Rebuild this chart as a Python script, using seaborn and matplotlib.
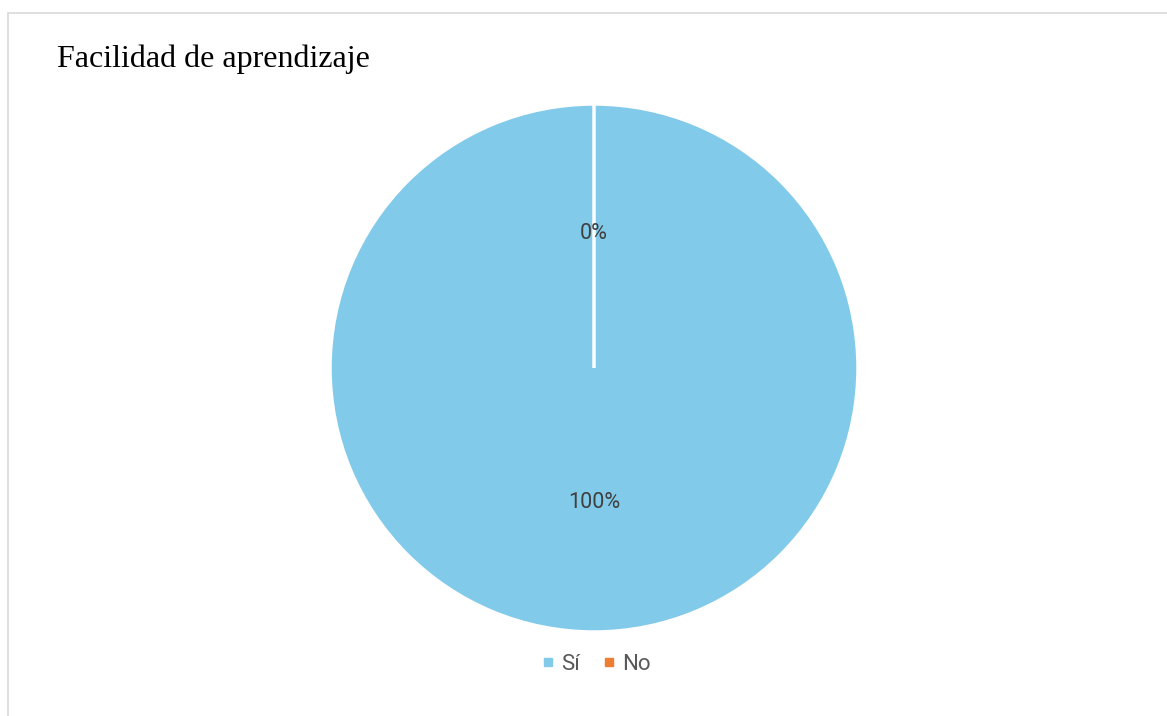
import matplotlib
matplotlib.use("Agg")
import matplotlib.pyplot as plt
import seaborn as sns
from matplotlib.patches import Rectangle
from matplotlib.lines import Line2D

# Data
labels = ["Sí", "No"]
values = [100, 0]
colors = ["#82CAEA", "#ED7D31"]
title = "Facilidad de aprendizaje"

sns.set_theme(style="white")
plt.rcParams["font.family"] = ["Roboto", "DejaVu Sans"]

fig = plt.figure(figsize=(11.67, 7.16), dpi=100)
W, H = 1167, 716

# chart border
fig.patches.append(Rectangle((8 / W, -0.01), 1.2, (716 - 13) / H + 0.01,
                             transform=fig.transFigure, fill=False,
                             edgecolor="#D9D9D9", linewidth=1.2))

cx, cy, r = 594, 368, 264
ax = fig.add_axes([(cx - r) / W, (H - cy - r) / H, 2 * r / W, 2 * r / H])
wedges, texts, autotexts = ax.pie(
    values, colors=sns.color_palette(colors), startangle=90, counterclock=False,
    autopct="%1.0f%%", pctdistance=0.51,
    wedgeprops=dict(edgecolor="white", linewidth=2.5),
    textprops=dict(color="#404040", fontsize=15.5),
)
ax.set_xlim(-1, 1)
ax.set_ylim(-1, 1)
ax.set_aspect("equal")

fig.text(57 / W, 1 - 59 / H, title, fontsize=23, family="Liberation Serif",
         color="black", ha="left", va="center")

handles = [Line2D([], [], marker="s", linestyle="", markersize=6,
                  markerfacecolor=c, markeredgecolor=c) for c in colors]
fig.legend(handles, labels, loc="center", bbox_to_anchor=(cx / W, 1 - 664 / H),
           ncol=2, frameon=False, fontsize=16, handletextpad=0.1,
           handlelength=1.0, columnspacing=0.8, labelcolor="#595959")

fig.savefig("out.png", dpi=100)
